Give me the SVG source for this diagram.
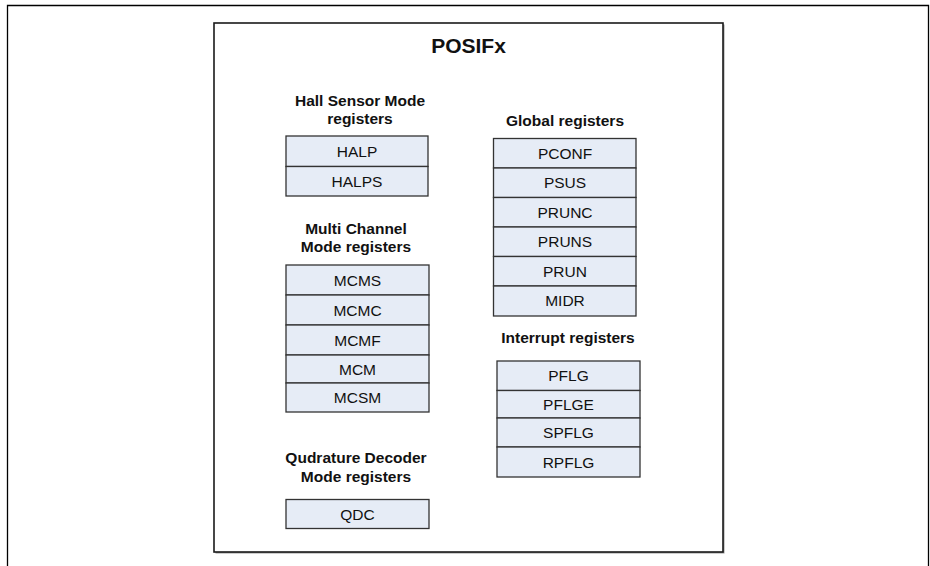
<svg xmlns="http://www.w3.org/2000/svg" width="930" height="566" viewBox="0 0 930 566">
<style>
.frame{fill:none;stroke:#000;stroke-width:1.3}
.reg{fill:#e6ecf6;stroke:#333;stroke-width:1.3}
.hd{font-family:"Liberation Sans",Arial,sans-serif;font-weight:bold;font-size:15.5px;fill:#111;text-anchor:middle}
.tx{font-family:"Liberation Sans",Arial,sans-serif;font-size:15.5px;fill:#111;text-anchor:middle}
.ttl{font-family:"Liberation Sans",Arial,sans-serif;font-weight:bold;font-size:21px;fill:#111;text-anchor:middle}
</style>
<rect width="930" height="566" fill="#fff"/>
<path class="frame" d="M7.5,566 V5.5 H928.5 V566"/>
<g id="posifx">
<rect x="215.5" y="24.5" width="509" height="529" fill="#999" stroke="none"/>
<rect x="214" y="23" width="509" height="529" fill="#fff" stroke="#1a1a1a" stroke-width="1.6"/>
<text class="ttl" x="468.5" y="53">POSIFx</text>
</g>
<g id="hall">
<text class="hd" x="360" y="106">Hall Sensor Mode</text>
<text class="hd" x="360" y="124">registers</text>
<g id="HALP"><rect class="reg" x="286" y="136" width="142" height="30.5"/><text class="tx" x="357" y="157">HALP</text></g>
<g id="HALPS"><rect class="reg" x="286" y="166.5" width="142" height="29.5"/><text class="tx" x="357" y="187">HALPS</text></g>
</g>
<g id="multichannel">
<text class="hd" x="356" y="234">Multi Channel</text>
<text class="hd" x="356" y="252">Mode registers</text>
<g id="MCMS"><rect class="reg" x="286" y="265" width="143" height="30"/><text class="tx" x="357.5" y="285.5">MCMS</text></g>
<g id="MCMC"><rect class="reg" x="286" y="295" width="143" height="30"/><text class="tx" x="357.5" y="315.5">MCMC</text></g>
<g id="MCMF"><rect class="reg" x="286" y="325" width="143" height="30"/><text class="tx" x="357.5" y="345.5">MCMF</text></g>
<g id="MCM"><rect class="reg" x="286" y="355" width="143" height="28"/><text class="tx" x="357.5" y="374.5">MCM</text></g>
<g id="MCSM"><rect class="reg" x="286" y="383" width="143" height="29"/><text class="tx" x="357.5" y="403">MCSM</text></g>
</g>
<g id="qdc">
<text class="hd" x="356" y="463">Qudrature Decoder</text>
<text class="hd" x="356" y="482">Mode registers</text>
<g id="QDC"><rect class="reg" x="286" y="499.5" width="143" height="29"/><text class="tx" x="357.5" y="519.5">QDC</text></g>
</g>
<g id="global">
<text class="hd" x="565" y="126">Global registers</text>
<g id="PCONF"><rect class="reg" x="493.5" y="138.5" width="142.5" height="29.5"/><text class="tx" x="565" y="158.5">PCONF</text></g>
<g id="PSUS"><rect class="reg" x="493.5" y="168" width="142.5" height="29.5"/><text class="tx" x="565" y="188">PSUS</text></g>
<g id="PRUNC"><rect class="reg" x="493.5" y="197.5" width="142.5" height="29.5"/><text class="tx" x="565" y="217.5">PRUNC</text></g>
<g id="PRUNS"><rect class="reg" x="493.5" y="227" width="142.5" height="29.5"/><text class="tx" x="565" y="247">PRUNS</text></g>
<g id="PRUN"><rect class="reg" x="493.5" y="256.5" width="142.5" height="29.5"/><text class="tx" x="565" y="276.5">PRUN</text></g>
<g id="MIDR"><rect class="reg" x="493.5" y="286" width="142.5" height="30"/><text class="tx" x="565" y="306">MIDR</text></g>
</g>
<g id="interrupt">
<text class="hd" x="568" y="343">Interrupt registers</text>
<g id="PFLG"><rect class="reg" x="497" y="361" width="143" height="29.5"/><text class="tx" x="568.5" y="381">PFLG</text></g>
<g id="PFLGE"><rect class="reg" x="497" y="390.5" width="143" height="27.5"/><text class="tx" x="568.5" y="410">PFLGE</text></g>
<g id="SPFLG"><rect class="reg" x="497" y="418" width="143" height="29"/><text class="tx" x="568.5" y="438">SPFLG</text></g>
<g id="RPFLG"><rect class="reg" x="497" y="447" width="143" height="30"/><text class="tx" x="568.5" y="467.5">RPFLG</text></g>
</g>
</svg>
